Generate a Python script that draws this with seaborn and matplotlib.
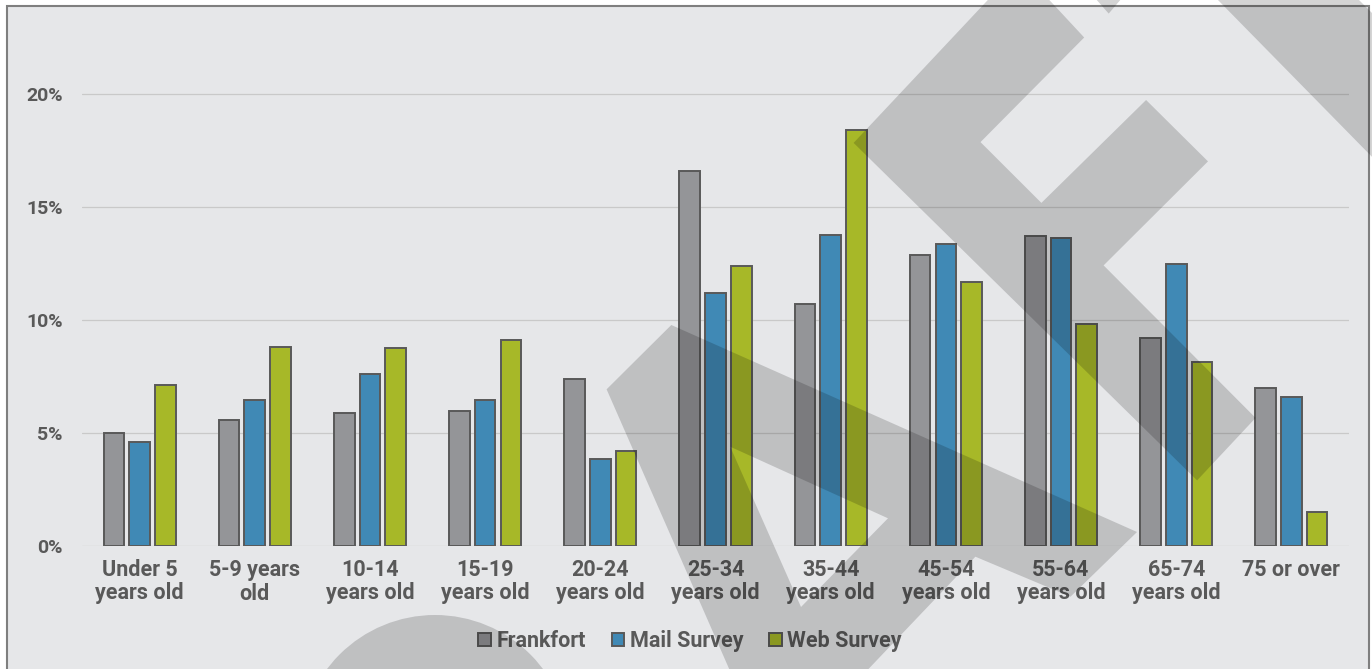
import matplotlib
matplotlib.use("Agg")
import numpy as np
import pandas as pd
import matplotlib.pyplot as plt
import seaborn as sns
from matplotlib.patches import Polygon, Circle, Rectangle, Patch, PathPatch
from matplotlib.path import Path
from matplotlib.transforms import Affine2D

# ---------------- data ----------------
categories = ["Under 5\nyears old", "5-9 years\nold", "10-14\nyears old", "15-19\nyears old",
              "20-24\nyears old", "25-34\nyears old", "35-44\nyears old", "45-54\nyears old",
              "55-64\nyears old", "65-74\nyears old", "75 or over"]
series = ["Frankfort", "Mail Survey", "Web Survey"]
frankfort = [5.0, 5.6, 5.9, 6.0, 7.4, 16.6, 10.7, 12.9, 13.7, 9.2, 7.0]
mail_survey = [4.6, 6.45, 7.6, 6.45, 3.85, 11.2, 13.75, 13.35, 13.65, 12.5, 6.6]
web_survey = [7.15, 8.8, 8.75, 9.1, 4.2, 12.4, 18.4, 11.7, 9.85, 8.15, 1.5]
ytick_values = [0, 5, 10, 15, 20]
ytick_labels = ["0%", "5%", "10%", "15%", "20%"]

colors = ["#949598", "#4089b5", "#a7b828"]
BG = "#e6e7e9"
TXT = "#595959"
EDGE = "#595959"

df = pd.DataFrame({
    "age": categories * 3,
    "value": frankfort + mail_survey + web_survey,
    "series": [series[0]] * 11 + [series[1]] * 11 + [series[2]] * 11,
})

# ---------------- figure ----------------
sns.set_style("white")
plt.rcParams["font.family"] = ["Roboto", "DejaVu Sans"]
plt.rcParams["font.weight"] = "bold"

W, H = 1372, 669
fig = plt.figure(figsize=(W / 100, H / 100), dpi=100, facecolor="white")
px = Affine2D().scale(1 / W, -1 / H).translate(0, 1) + fig.transFigure

fig.add_artist(Rectangle((7, 5.5), 1362, 700, transform=px, facecolor=BG,
                         edgecolor="#7f7f7f", lw=1.5, zorder=0))

ax = fig.add_axes([82 / W, 1 - 546.3 / H, (1349 - 82) / W, (546.3 - 48.7) / H])
ax.set_facecolor("none")

sns.barplot(data=df, x="age", y="value", hue="series", hue_order=series,
            order=categories, palette=colors, saturation=1, width=0.67, gap=0.2,
            edgecolor=EDGE, linewidth=1.4, ax=ax, legend=False, errorbar=None)

ax.set_xlim(-0.5, len(categories) - 0.5)
ax.set_ylim(0, 22)
ax.set_yticks(ytick_values)
ax.set_yticklabels(ytick_labels)
ax.grid(axis="y", color="#c9c9c9", lw=0.9)
ax.grid(axis="x", visible=False)
ax.set_axisbelow(True)
for s in ax.spines.values():
    s.set_visible(False)
ax.set_xlabel("")
ax.set_ylabel("")
ax.tick_params(axis="both", length=0, colors=TXT)
ax.tick_params(axis="y", pad=14, labelsize=14)
ax.tick_params(axis="x", pad=9, labelsize=15.5)
for t in ax.get_xticklabels():
    t.set_fontweight("bold")
    t.set_linespacing(1.1)
for t in ax.get_yticklabels():
    t.set_fontweight("bold")

handles = [Patch(facecolor=c, edgecolor=EDGE, lw=1.4) for c in colors]
fig.legend(handles, series, loc="center", bbox_to_anchor=(690 / W, 1 - 641 / H),
           ncol=3, frameon=False, prop={"weight": "bold", "size": 15.5},
           labelcolor=TXT, handlelength=0.6, handleheight=0.6,
           handletextpad=0.25, columnspacing=1.2)

# ---------------- watermark overlay ----------------
wm = dict(transform=px, facecolor="black", edgecolor="none", alpha=0.17, zorder=10)
shapes = [
    [(989.7, -2), (853.6, 142.9), (1197.1, 480.4), (1255.6, 417.9), (1103.6, 265.4),
     (1208, 161.4), (1146.1, 100), (1041.4, 202.9), (980.5, 142.1), (1084.2, 37.5), (1047.5, -2)],
    [(1095, -2), (1108.7, 13.6), (1122, -2)],
    [(1216, -2), (1357, -2), (1380, 21), (1380, 165)],
]
for pts in shapes:
    fig.add_artist(Polygon(pts, closed=True, **wm))

outer = [(606.6, 389.3), (671.3, 325), (1137, 532), (1070.5, 596.7), (975.4, 556.7),
         (858, 680), (734, 680)]
hole = [(730.2, 446.7), (801, 607), (888, 518.3)]
verts, codes = [], []
for ring in (outer, hole[::-1] if False else hole):
    verts += ring + [ring[0]]
    codes += [Path.MOVETO] + [Path.LINETO] * (len(ring) - 1) + [Path.CLOSEPOLY]
fig.add_artist(PathPatch(Path(verts, codes), **wm))
fig.add_artist(Circle((435, 750), 135, **wm))

fig.savefig("out.png", dpi=100, facecolor="white")
